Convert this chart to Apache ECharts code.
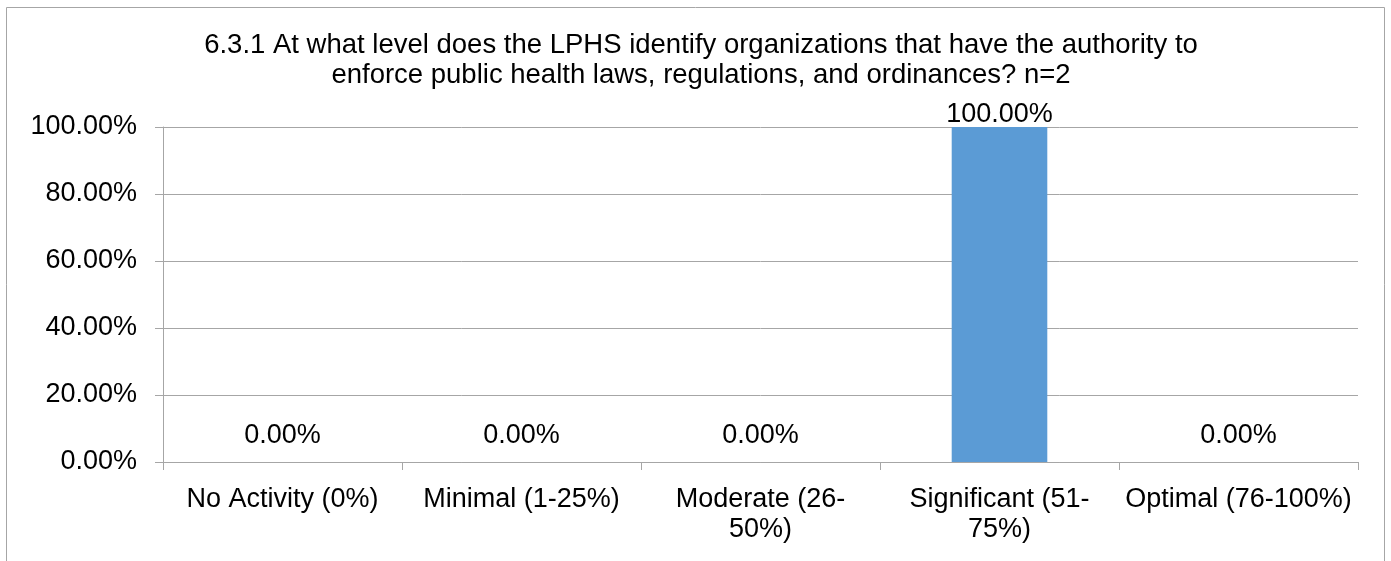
<!DOCTYPE html>
<html>
<head>
<meta charset="utf-8">
<script src="https://cdn.jsdelivr.net/npm/echarts@6/dist/echarts.min.js"></script>
<style>
html,body{margin:0;padding:0;background:#fff;}
#chart{width:1391px;height:561px;}
</style>
</head>
<body>
<div id="chart"></div>
<script>
const titleText = "6.3.1 At what level does the LPHS identify organizations that have the authority to\nenforce public health laws, regulations, and ordinances? n=2";
const categories = ["No Activity (0%)", "Minimal (1-25%)", "Moderate (26-\n50%)", "Significant (51-\n75%)", "Optimal (76-100%)"];
const values = [0, 0, 0, 100, 0];
const yTicks = { min: 0, max: 100, interval: 20 };

const FONT = "Liberation Sans";
const FS = 27;
const chart = echarts.init(document.getElementById('chart'), null, { renderer: 'canvas' });
chart.setOption({
  animation: false,
  backgroundColor: '#ffffff',
  graphic: [{
    type: 'rect',
    shape: { x: 6.5, y: 7.5, width: 1378, height: 600 },
    style: { fill: 'none', stroke: '#a6a6a6', lineWidth: 1 },
    silent: true
  }],
  title: {
    text: titleText,
    left: 696,
    textAlign: 'center',
    top: 25,
    textStyle: { fontFamily: FONT, fontSize: 27.5, fontWeight: 'normal', color: '#000', lineHeight: 30 }
  },
  grid: { left: 163, right: 33, top: 127, bottom: 99, containLabel: false },
  xAxis: {
    type: 'category',
    data: categories,
    axisLine: { show: true, lineStyle: { color: '#a6a6a6', width: 1 } },
    axisTick: { show: true, alignWithLabel: false, length: 8, lineStyle: { color: '#a6a6a6' } },
    axisLabel: { fontFamily: FONT, fontSize: FS, color: '#000', margin: 23, lineHeight: 30, interval: 0 },
    splitLine: { show: false }
  },
  yAxis: {
    type: 'value',
    min: yTicks.min, max: yTicks.max, interval: yTicks.interval,
    axisLine: { show: true, lineStyle: { color: '#a6a6a6', width: 1 } },
    axisTick: { show: true, length: 8, lineStyle: { color: '#a6a6a6' } },
    axisLabel: { fontFamily: FONT, fontSize: FS, color: '#000', margin: 26, formatter: v => v.toFixed(2) + '%' },
    splitLine: { show: true, lineStyle: { color: '#a6a6a6', width: 1 } }
  },
  series: [{
    type: 'bar',
    data: values.map(v => ({ value: v, label: { distance: v >= yTicks.max ? -1 : 13 } })),
    barWidth: '40%',
    itemStyle: { color: '#5b9bd5' },
    label: {
      show: true, position: 'top',
      fontFamily: FONT, fontSize: FS, color: '#000',
      formatter: p => p.value.toFixed(2) + '%'
    }
  }]
});
</script>
</body>
</html>
